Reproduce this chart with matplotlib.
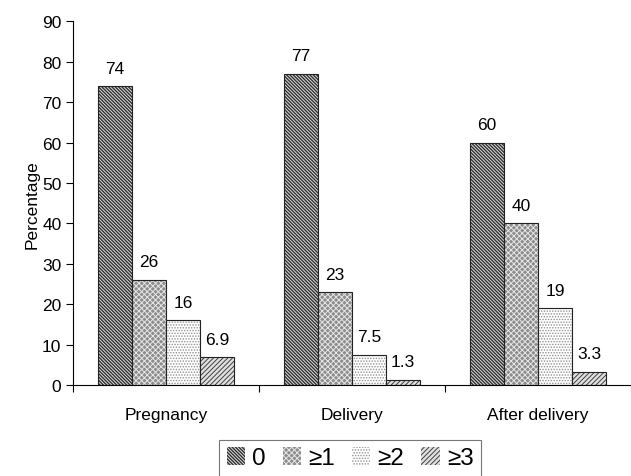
import numpy as np
import matplotlib
matplotlib.use('Agg')
import matplotlib.pyplot as plt

plt.rcParams['font.family'] = ['Liberation Sans', 'DejaVu Sans']
plt.rcParams['hatch.linewidth'] = 0.7

categories = ['Pregnancy', 'Delivery', 'After delivery']
series_names = ['0', '\u22651', '\u22652', '\u22653']
vals_0 = [74, 77, 60]
vals_ge1 = [26, 23, 40]
vals_ge2 = [16, 7.5, 19]
vals_ge3 = [6.9, 1.3, 3.3]
label_0 = ['74', '77', '60']
label_ge1 = ['26', '23', '40']
label_ge2 = ['16', '7.5', '19']
label_ge3 = ['6.9', '1.3', '3.3']

series = [vals_0, vals_ge1, vals_ge2, vals_ge3]
labels = [label_0, label_ge1, label_ge2, label_ge3]
faces = ['#2e2e2e', '#8c8c8c', '#ffffff', '#e0e0e0']
hatches = ['\\' * 10, 'x' * 6, '.' * 6, '/' * 7]
hcols = ['#e0e0e0', '#e6e6e6', '#909090', '#404040']

fig = plt.figure(figsize=(6.31, 4.77), dpi=100)
ax = fig.add_axes([0.116, 0.191, 0.884, 0.762])

x = np.arange(len(categories))
w = 0.183
handles = []
for i, vals in enumerate(series):
    pos = x - 1.5 * w + i * w
    ax.bar(pos, vals, w, color=faces[i], hatch=hatches[i], edgecolor=hcols[i], linewidth=0)
    ax.bar(pos, vals, w, facecolor='none', edgecolor='#222222', linewidth=0.8)
    for p, v, t in zip(pos, vals, labels[i]):
        ax.text(p, v + 2.6, t, ha='center', va='bottom', fontsize=12.5)
    handles.append(plt.Rectangle((0, 0), 1, 1, facecolor=faces[i], hatch=hatches[i],
                                 edgecolor=hcols[i], linewidth=0))

ax.set_xlim(-0.5, 2.5)
ax.set_ylim(0, 90)
ax.set_yticks(range(0, 91, 10))
ax.set_xticks([-0.5, 0.5, 1.5, 2.5])
ax.set_xticklabels([])
ax.set_xticks(x, minor=True)
ax.set_xticklabels(categories, minor=True, fontsize=12.5)
ax.tick_params(axis='x', which='minor', length=0, pad=16)
ax.tick_params(axis='x', which='major', length=5, direction='out')
ax.tick_params(axis='y', length=5, direction='out', labelsize=12.5)
ax.spines['top'].set_visible(False)
ax.spines['right'].set_visible(False)
ax.set_ylabel('Percentage', fontsize=12.5, labelpad=2)

leg = fig.legend(handles, series_names, loc='upper center', bbox_to_anchor=(0.555, 0.076),
                 ncol=4, fontsize=17.5, frameon=True, fancybox=False, edgecolor='#555555',
                 handlelength=0.75, handleheight=0.75, handletextpad=0.3, columnspacing=0.7,
                 borderpad=0.3, borderaxespad=0)
leg.get_frame().set_linewidth(0.8)

fig.savefig('out.png', dpi=100)
